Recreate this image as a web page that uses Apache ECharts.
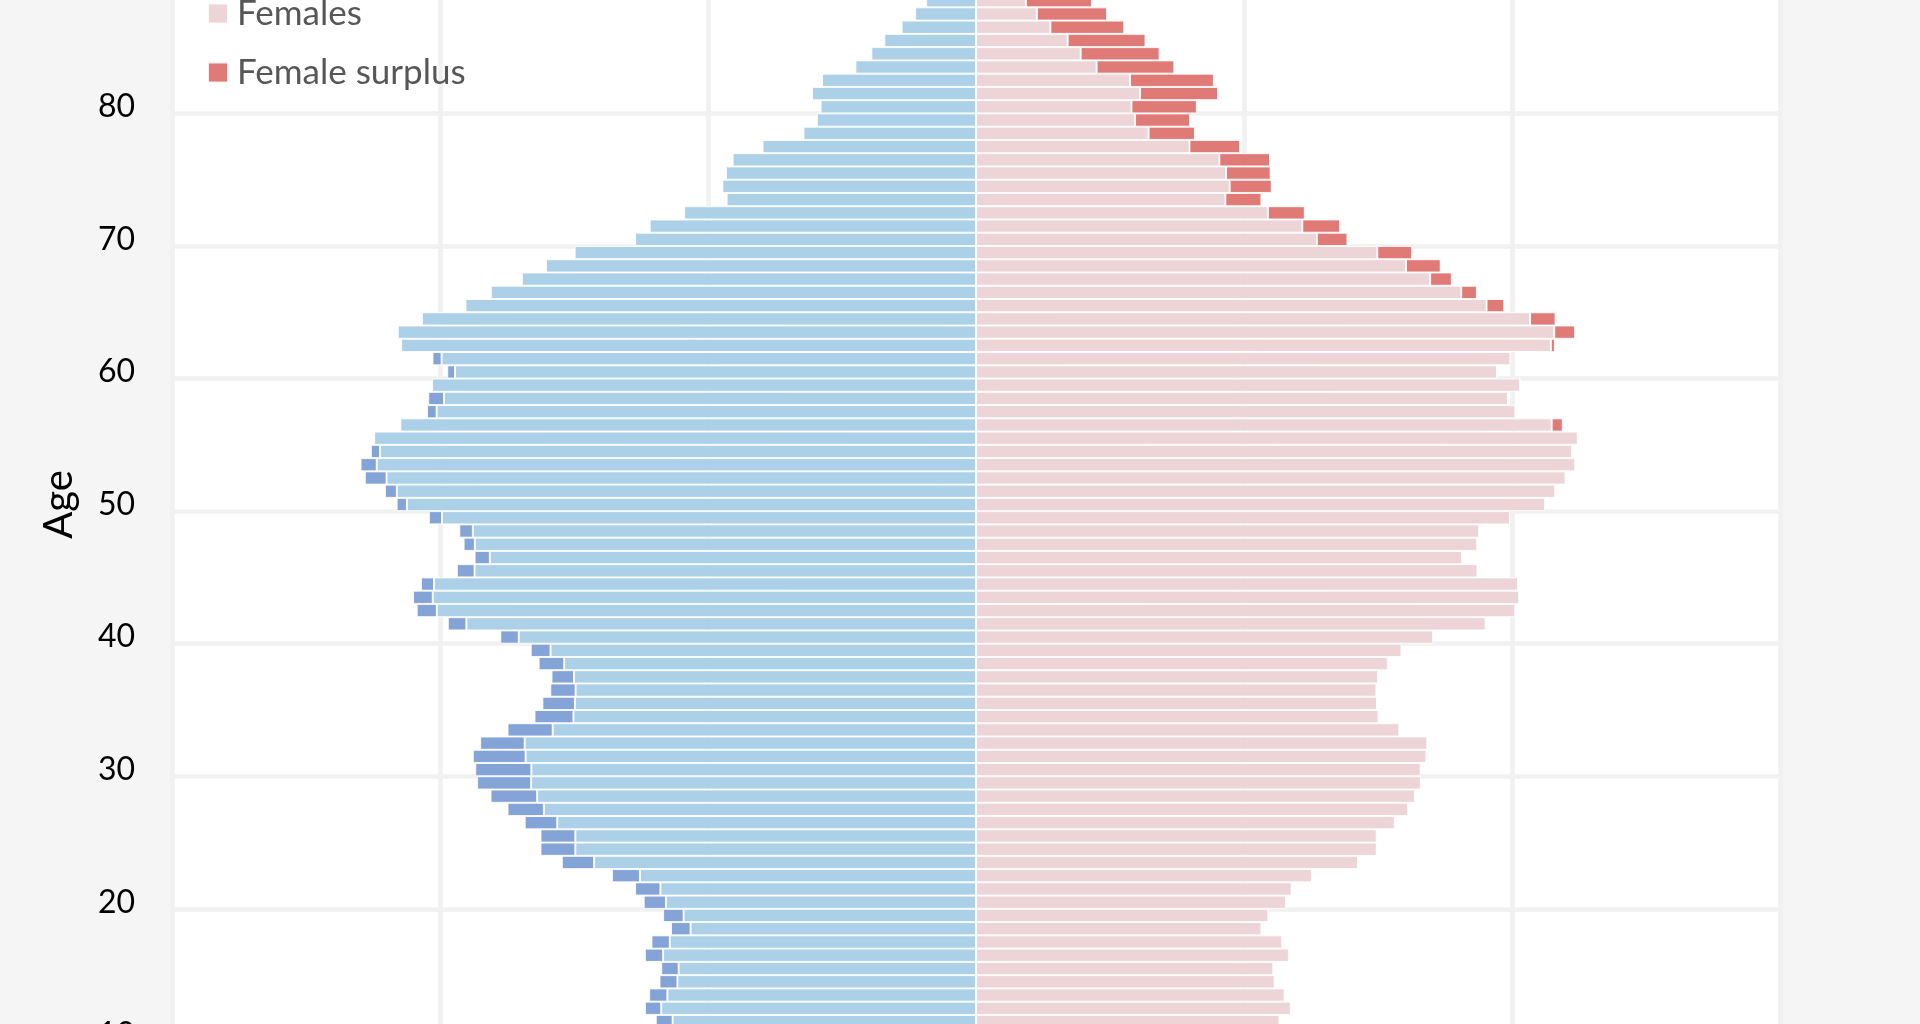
<!DOCTYPE html>
<html>
<head>
<meta charset="utf-8">
<script src="https://cdn.jsdelivr.net/npm/echarts@6/dist/echarts.min.js"></script>
<style>
  html, body { margin:0; padding:0; width:1920px; height:1024px; overflow:hidden; background:#f5f5f5; }
  #wrap { position:relative; width:1920px; height:1024px; overflow:hidden; }
  #chart { position:absolute; left:0; top:-300px; width:1920px; height:1700px; }
</style>
</head>
<body>
<div id="wrap"><div id="chart"></div></div>
<script>
// Ages 0..100 (single years)
const ages = [];
for (let a = 0; a <= 100; a++) ages.push(String(a));

// Population by single year of age (thousands), index = age
const males = [
  23.0, 23.4, 23.9, 24.2, 24.5, 24.1, 23.8, 24.0, 24.3, 24.0,   // 0-9
  23.7, 23.90, 24.71, 24.39, 23.62, 23.49, 24.71, 24.22, 22.76, 23.35, // 10-19
  24.80, 25.44, 27.17, 30.91, 32.50, 32.50, 33.68, 34.96, 36.23, 37.23, // 20-29
  37.37, 37.55, 37.00, 34.96, 32.95, 32.36, 31.77, 31.68, 32.64, 33.23, // 30-39
  35.50, 39.42, 41.74, 42.01, 41.42, 38.74, 37.42, 38.24, 38.56, 40.83, // 40-49
  43.24, 44.11, 45.61, 45.93, 45.16, 44.91, 42.96, 40.97, 40.88, 40.60, // 50-59
  39.46, 40.56, 42.90, 43.15, 41.35, 38.10, 36.21, 33.89, 32.09, 29.95, // 60-69
  25.44, 24.35, 21.78, 18.61, 18.93, 18.66, 18.16, 15.93, 12.88, 11.87, // 70-79
  11.60, 12.24, 11.49, 9.00, 7.81, 6.84, 5.55, 4.54, 3.72, 3.0,         // 80-89
  2.3, 1.7, 1.2, 0.9, 0.6, 0.4, 0.25, 0.15, 0.1, 0.05, 0.03             // 90-100
];
const females = [
  21.9, 22.2, 22.7, 23.0, 23.2, 22.9, 22.5, 22.8, 23.1, 22.8,   // 0-9
  22.5, 22.64, 23.49, 23.03, 22.28, 22.19, 23.35, 22.85, 21.30, 21.82, // 10-19
  23.14, 23.55, 25.08, 28.50, 29.90, 29.90, 31.25, 32.25, 32.75, 33.20, // 20-29
  33.18, 33.61, 33.68, 31.59, 30.04, 29.93, 29.88, 30.00, 30.73, 31.75, // 30-39
  34.12, 38.03, 40.24, 40.54, 40.45, 37.42, 36.28, 37.40, 37.55, 39.85, // 40-49
  42.47, 43.22, 43.99, 44.72, 44.48, 44.91, 43.79, 40.25, 39.70, 40.61, // 50-59
  38.88, 39.88, 43.20, 44.71, 43.25, 39.42, 37.38, 35.51, 34.68, 32.55, // 60-69
  27.72, 27.17, 24.54, 21.30, 22.07, 21.99, 21.94, 19.71, 16.34, 15.98, // 70-79
  16.48, 18.07, 17.75, 14.80, 13.70, 12.65, 11.06, 9.78, 8.65, 7.5,     // 80-89
  6.3, 5.2, 4.1, 3.2, 2.4, 1.7, 1.2, 0.8, 0.5, 0.3, 0.2                 // 90-100
];

const xTicks = [-60, -40, -20, 0, 20, 40, 60];

const colors = {
  males: '#abd0e8',
  maleSurplus: '#84a3d6',
  females: '#edd4d6',
  femaleSurplus: '#e07a77'
};

const malesBase = [], maleSurplus = [], femalesBase = [], femaleSurplus = [];
for (let i = 0; i < ages.length; i++) {
  const m = males[i], f = females[i], lo = Math.min(m, f);
  malesBase.push(-lo);
  maleSurplus.push(m > f ? -(m - f) : null);
  femalesBase.push(lo);
  femaleSurplus.push(f > m ? (f - m) : null);
}

const FONT = 'Lato';
const chart = echarts.init(document.getElementById('chart'), null, { renderer: 'canvas' });
const border = { borderColor: 'rgba(255,255,255,0.85)', borderWidth: 1 };

function barSeries(name, data, color) {
  return {
    name, type: 'bar', stack: 'pop', data,
    barCategoryGap: '0%', barGap: '0%',
    itemStyle: Object.assign({ color }, border),
    emphasis: { disabled: true },
    animation: false
  };
}

chart.setOption({
  backgroundColor: '#f5f5f5',
  animation: false,
  textStyle: { fontFamily: FONT },
  grid: {
    show: true, backgroundColor: '#ffffff', borderWidth: 0,
    left: 172, width: 1608, top: 135, height: 1339
  },
  legend: {
    data: ['Males', 'Male surplus', 'Females', 'Female surplus'],
    orient: 'vertical',
    left: 207, top: 178,
    itemWidth: 20, itemHeight: 20, itemGap: 24,
    icon: 'rect',
    padding: 0,
    textStyle: { fontFamily: FONT, fontSize: 35, color: '#575757', padding: [0, 0, 0, 4] },
    selectedMode: false
  },
  xAxis: {
    type: 'value', min: xTicks[0], max: xTicks[xTicks.length - 1], interval: 20,
    axisLine: { show: false }, axisTick: { show: false },
    axisLabel: { fontFamily: FONT, fontSize: 32, color: '#000', margin: 14,
      formatter: v => String(Math.abs(v)) },
    splitLine: { show: true, lineStyle: { color: '#f1f1f1', width: 4.7 } }
  },
  yAxis: {
    type: 'category', data: ages, boundaryGap: true,
    name: 'Age', nameLocation: 'middle', nameRotate: 90, nameGap: 93,
    nameMoveOverlap: false,
    nameTextStyle: { fontFamily: FONT, fontSize: 40, color: '#000' },
    axisLine: { show: false }, axisTick: { show: false },
    axisLabel: { interval: 9, fontFamily: FONT, fontSize: 32, color: '#000', margin: 37 },
    splitLine: { show: true, interval: 9, lineStyle: { color: '#f1f1f1', width: 4.7 } }
  },
  series: [
    barSeries('Males', malesBase, colors.males),
    barSeries('Male surplus', maleSurplus, colors.maleSurplus),
    barSeries('Females', femalesBase, colors.females),
    barSeries('Female surplus', femaleSurplus, colors.femaleSurplus)
  ]
});
</script>
</body>
</html>
